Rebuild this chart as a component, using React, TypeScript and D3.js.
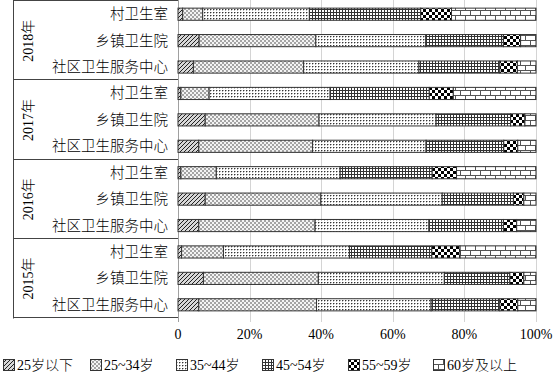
import React from 'react';
import * as d3 from 'd3';

const years = ['2018年', '2017年', '2016年', '2015年'];
const institutions = ['村卫生室', '乡镇卫生院', '社区卫生服务中心'];
const ageGroups = ['25岁以下', '25~34岁', '35~44岁', '45~54岁', '55~59岁', '60岁及以上'];
const tickValues = [0, 0.2, 0.4, 0.6, 0.8, 1];
const tickLabels = ['0', '20%', '40%', '60%', '80%', '100%'];

// percent per age group, rows: 村卫生室, 乡镇卫生院, 社区卫生服务中心
const share2018 = [
  [1.3, 5.6, 29.8, 31.1, 8.6, 23.6],
  [5.9, 32.6, 30.7, 21.7, 4.8, 4.3],
  [4.3, 30.8, 32.2, 22.6, 4.9, 5.2],
];
const share2017 = [
  [0.8, 7.9, 33.8, 27.7, 6.7, 23.1],
  [7.6, 31.8, 32.7, 20.8, 4.0, 3.1],
  [5.8, 31.8, 31.7, 21.7, 3.9, 5.1],
];
const share2016 = [
  [0.8, 9.9, 34.6, 25.7, 6.8, 22.2],
  [7.6, 32.3, 33.9, 19.9, 2.9, 3.4],
  [5.8, 32.5, 31.8, 20.8, 3.7, 5.4],
];
const share2015 = [
  [1.0, 11.7, 35.2, 23.0, 7.9, 21.2],
  [7.1, 32.1, 35.2, 18.3, 3.9, 3.4],
  [5.8, 32.9, 32.0, 19.2, 5.0, 5.1],
];
const sharesByYear = [share2018, share2017, share2016, share2015];

const W = 553;
const H = 374;
const font = "'Liberation Serif', 'Times New Roman', 'Noto Sans CJK SC', serif";

const Patterns = () => (
  <defs>
    <pattern id="p0" width="4" height="4" patternUnits="userSpaceOnUse">
      <rect width="4" height="4" fill="#d8d8d8" />
      <path d="M0,4 L4,0 M-1,1 L1,-1 M3,5 L5,3" stroke="#222" strokeWidth="1" />
    </pattern>
    <pattern id="p1" width="4" height="4" patternUnits="userSpaceOnUse">
      <rect width="4" height="4" fill="#f4f4f4" />
      <rect x="0" y="0" width="2" height="2" fill="#a4a4a4" />
      <rect x="2" y="2" width="2" height="2" fill="#a4a4a4" />
    </pattern>
    <pattern id="p2" width="3" height="3" patternUnits="userSpaceOnUse">
      <rect width="3" height="3" fill="#fff" />
      <rect x="0" y="0" width="1" height="1" fill="#333" />
      <rect x="1" y="0" width="1" height="1" fill="#aaa" />
      <rect x="0" y="1" width="1" height="1" fill="#bbb" />
    </pattern>
    <pattern id="p3" width="3" height="3" patternUnits="userSpaceOnUse">
      <rect width="3" height="3" fill="#fff" />
      <rect x="0" y="0" width="3" height="1" fill="#333" />
      <rect x="0" y="0" width="1" height="3" fill="#333" />
    </pattern>
    <pattern id="p4" width="6" height="6" patternUnits="userSpaceOnUse">
      <rect width="6" height="6" fill="#fff" />
      <rect x="0" y="0" width="3" height="3" fill="#000" />
      <rect x="3" y="3" width="3" height="3" fill="#000" />
    </pattern>
    <pattern id="p5" width="10" height="10" patternUnits="userSpaceOnUse">
      <rect width="10" height="10" fill="#fff" />
      <path d="M0,0.5 H10 M0,5.5 H10 M0.5,0 V5 M5.5,5 V10" stroke="#555" strokeWidth="1" />
    </pattern>
  </defs>
);

export default function App() {
  const rows = years.flatMap((yr, yi) =>
    institutions.map((inst, ii) => {
      const row: any = { key: `${yr}-${inst}`, year: yr, inst };
      ageGroups.forEach((g, gi) => (row[g] = sharesByYear[yi][ii][gi] / 100));
      return row;
    })
  );
  const series = d3.stack().keys(ageGroups)(rows);

  const x = d3.scaleLinear().domain([0, 1]).range([178, 536]);
  const y = d3
    .scaleBand()
    .domain(rows.map((r) => r.key))
    .range([1, 318])
    .paddingInner(0.54)
    .paddingOuter(0.27);
  const step = y.step();
  const groupTop = (yi: number) => 1 + yi * 3 * step;

  const legendX = [3, 90, 176, 262, 348, 433];

  return (
    <svg
      width={W}
      height={H}
      style={{ position: 'absolute', left: 0, top: 0, background: '#fff' }}
      fontFamily={font}
      fontWeight={300}
    >
      <Patterns />
      {/* gridlines */}
      {tickValues.map((t, i) => (
        <line
          key={'g' + i}
          x1={Math.round(x(t)) + 0.5}
          x2={Math.round(x(t)) + 0.5}
          y1={0}
          y2={322}
          stroke={i === 0 ? '#a0a0a0' : '#d4d4d4'}
          strokeWidth={1}
        />
      ))}
      {/* left table frame */}
      <line x1={13.5} x2={13.5} y1={0} y2={318.5} stroke="#444" />
      {[0, 1, 2, 3, 4].map((k) => (
        <line
          key={'s' + k}
          x1={13}
          x2={178}
          y1={Math.round(groupTop(k)) - 0.5}
          y2={Math.round(groupTop(k)) - 0.5}
          stroke="#444"
        />
      ))}
      {/* year labels */}
      {years.map((yr, yi) => {
        const cy = groupTop(yi) + 1.5 * step;
        return (
          <text
            key={yr}
            transform={`translate(28,${cy}) rotate(-90)`}
            textAnchor="middle"
            dominantBaseline="central"
            fontSize={14}
            fill="#000"
          >
            {yr}
          </text>
        );
      })}
      {/* category labels */}
      {rows.map((r) => (
        <text
          key={'c' + r.key}
          x={168}
          y={(y(r.key) as number) + y.bandwidth() / 2}
          textAnchor="end"
          dominantBaseline="central"
          fontSize={14.5}
          fill="#000"
        >
          {r.inst}
        </text>
      ))}
      {/* bars */}
      {series.map((s, si) => (
        <g key={s.key} fill={`url(#p${si})`} stroke="#333" strokeWidth={1}>
          {s.map((d, di) => (
            <rect
              key={di}
              x={x(d[0])}
              y={y(rows[di].key)}
              width={Math.max(0, x(d[1]) - x(d[0]))}
              height={y.bandwidth()}
            />
          ))}
        </g>
      ))}
      {/* tick labels */}
      {tickValues.map((t, i) => (
        <text
          key={'t' + i}
          x={x(t)}
          y={334}
          textAnchor="middle"
          dominantBaseline="central"
          fontSize={14}
          fill="#000"
        >
          {tickLabels[i]}
        </text>
      ))}
      {/* legend */}
      {ageGroups.map((g, gi) => (
        <g key={g} transform={`translate(${legendX[gi]},359)`}>
          <rect x={0.5} y={0.5} width={11} height={11} fill={`url(#p${gi})`} stroke="#333" />
          <text x={14} y={6.5} dominantBaseline="central" fontSize={14} fill="#000">
            {g}
          </text>
        </g>
      ))}
    </svg>
  );
}
